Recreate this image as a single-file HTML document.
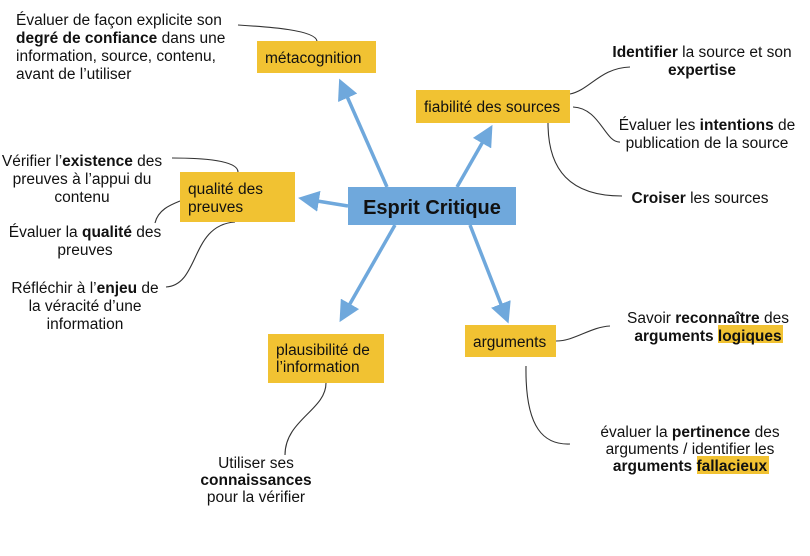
<!DOCTYPE html>
<html><head><meta charset="utf-8"><style>
html,body{margin:0;padding:0;background:#fff;width:810px;height:556px;overflow:hidden}
svg{display:block}
text{font-family:"Liberation Sans",Arial,sans-serif;font-size:15.5px;fill:#111}
.b{font-weight:bold}
</style></head><body>
<svg width="810" height="556" viewBox="0 0 810 556" xmlns="http://www.w3.org/2000/svg">
<defs>
<marker id="ah" markerWidth="6" markerHeight="6" refX="4" refY="3" orient="auto" markerUnits="strokeWidth">
<path d="M0,0 L6,3 L0,6 z" fill="#6fa8dc"/></marker>
</defs>
<g stroke="#6fa8dc" stroke-width="3.5" fill="none">
<line x1="387" y1="187" x2="342" y2="85" marker-end="url(#ah)"/>
<line x1="457" y1="187" x2="489" y2="131" marker-end="url(#ah)"/>
<line x1="348" y1="206" x2="305" y2="199" marker-end="url(#ah)"/>
<line x1="395" y1="225" x2="343" y2="316" marker-end="url(#ah)"/>
<line x1="470" y1="225" x2="506" y2="317" marker-end="url(#ah)"/>
</g>
<g stroke="#333" stroke-width="1.1" fill="none">
<path d="M238,25 C270,27 315,30 317,41"/>
<path d="M570,94 C590,90 600,68 630,67"/>
<path d="M573,107 C600,108 605,143 620,142"/>
<path d="M548,123 C548,170 570,196 622,196"/>
<path d="M238,172 C238,160 200,158 172,158"/>
<path d="M180,201 C170,205 158,210 155,223"/>
<path d="M235,222 C190,225 200,285 166,287"/>
<path d="M556,341 C575,341 590,327 610,326"/>
<path d="M526,366 C525,430 545,445 570,444"/>
<path d="M326,383 C326,410 285,420 285,455"/>
</g>
<rect x="348" y="187" width="168" height="38" fill="#6fa8dc"/>
<text x="432" y="214" text-anchor="middle" class="b" style="font-size:20px">Esprit Critique</text>
<rect x="257" y="41" width="119" height="32" fill="#f1c232"/>
<text x="265" y="63">métacognition</text>
<rect x="416" y="90" width="154" height="33" fill="#f1c232"/>
<text x="424" y="112">fiabilité des sources</text>
<rect x="180" y="172" width="115" height="50" fill="#f1c232"/>
<text x="188" y="194">qualité des</text><text x="188" y="212">preuves</text>
<rect x="268" y="334" width="116" height="49" fill="#f1c232"/>
<text x="276" y="355">plausibilité de</text><text x="276" y="372">l’information</text>
<rect x="465" y="325" width="91" height="32" fill="#f1c232"/>
<text x="473" y="347">arguments</text>
<rect x="718" y="325" width="65" height="18" fill="#f1c232"/>
<rect x="697" y="456" width="72" height="18" fill="#f1c232"/>
<text x="16" y="25">Évaluer de façon explicite son</text>
<text x="16" y="43"><tspan class="b">degré de confiance</tspan> dans une</text>
<text x="16" y="61">information, source, contenu,</text>
<text x="16" y="79">avant de l’utiliser</text>
<g text-anchor="middle">
<text x="702" y="57"><tspan class="b">Identifier</tspan> la source et son</text>
<text x="702" y="75" class="b">expertise</text>
<text x="707" y="130">Évaluer les <tspan class="b">intentions</tspan> de</text>
<text x="707" y="148">publication de la source</text>
<text x="700" y="203"><tspan class="b">Croiser</tspan> les sources</text>
<text x="82" y="166">Vérifier l’<tspan class="b">existence</tspan> des</text>
<text x="82" y="184">preuves à l’appui du</text>
<text x="82" y="202">contenu</text>
<text x="85" y="237">Évaluer la <tspan class="b">qualité</tspan> des</text>
<text x="85" y="255">preuves</text>
<text x="85" y="293">Réfléchir à l’<tspan class="b">enjeu</tspan> de</text>
<text x="85" y="311">la véracité d’une</text>
<text x="85" y="329">information</text>
<text x="708" y="323">Savoir <tspan class="b">reconnaître</tspan> des</text>
<text x="708" y="341" class="b">arguments logiques</text>
<text x="690" y="437">évaluer la <tspan class="b">pertinence</tspan> des</text>
<text x="690" y="454">arguments / identifier les</text>
<text x="690" y="471" class="b">arguments fallacieux</text>
<text x="256" y="468">Utiliser ses</text>
<text x="256" y="485" class="b">connaissances</text>
<text x="256" y="502">pour la vérifier</text>
</g>
</svg>
</body></html>
